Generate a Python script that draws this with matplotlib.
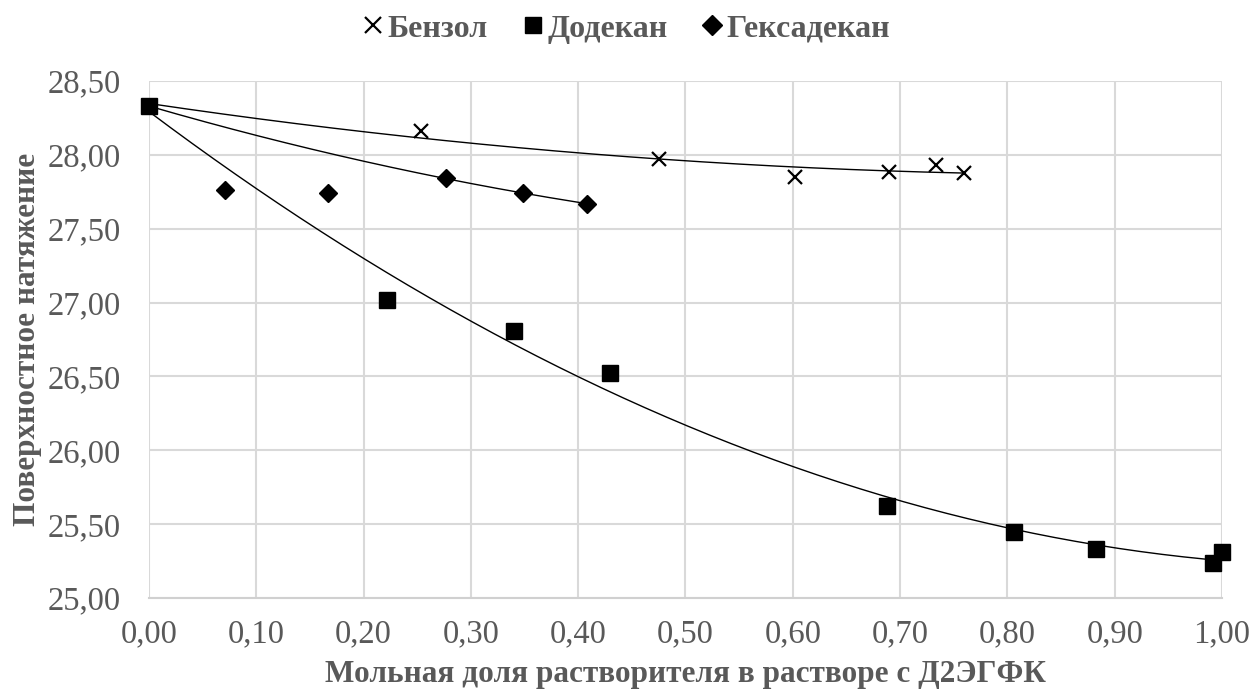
import numpy as np
import matplotlib
matplotlib.use("Agg")
import matplotlib.pyplot as plt
from matplotlib.lines import Line2D

# Data
benz_x = [0.0, 0.2535, 0.4751, 0.6025, 0.690, 0.733, 0.760]
benz_y = [28.33, 28.16, 27.97, 27.85, 27.885, 27.93, 27.874]

dod_x = [0.0, 0.2218, 0.340, 0.4295, 0.6876, 0.8058, 0.8825, 0.9916, 0.9996]
dod_y = [28.33, 27.02, 26.81, 26.52, 25.62, 25.45, 25.33, 25.24, 25.31]

hex_x = [0.071, 0.1665, 0.2764, 0.3487, 0.4081]
hex_y = [27.76, 27.74, 27.84, 27.74, 27.67]
# points the hexadecane curve is drawn through
hex_line_x = [0.0, 0.2764, 0.3487, 0.4081]
hex_line_y = [28.33, 27.84, 27.74, 27.67]

x_ticks = [0.0, 0.1, 0.2, 0.3, 0.4, 0.5, 0.6, 0.7, 0.8, 0.9, 1.0]
y_ticks = [25.0, 25.5, 26.0, 26.5, 27.0, 27.5, 28.0, 28.5]

labels = ["Бензол", "Додекан", "Гексадекан"]
xlabel = "Мольная доля растворителя в растворе с Д2ЭГФК"
ylabel = "Поверхностное натяжение"

plt.rcParams['font.family'] = ['Liberation Serif', 'DejaVu Serif']
gray = "#595959"

fig = plt.figure(figsize=(12.54, 6.95), dpi=100)
ax = fig.add_axes([0.1188, 0.1396, 0.9745 - 0.1188, 0.8835 - 0.1396])

def trend(xs, ys, deg, x0, x1):
    c = np.polyfit(xs, ys, deg)
    xx = np.linspace(x0, x1, 200)
    return xx, np.polyval(c, xx)

lw = 1.0
tx, ty = trend(benz_x, benz_y, 2, 0.0, max(benz_x))
ax.plot(tx, ty, color="black", lw=lw, zorder=3)
tx, ty = trend(dod_x, dod_y, 2, 0.0, max(dod_x))
ax.plot(tx, ty, color="black", lw=lw, zorder=3)
tx, ty = trend(hex_line_x, hex_line_y, 2, 0.0, max(hex_line_x))
ax.plot(tx, ty, color="black", lw=lw, zorder=3)

ax.plot(benz_x[1:], benz_y[1:], linestyle="none", marker="x", ms=10, mew=1.6,
        color="black", zorder=4, clip_on=False)
ax.plot(dod_x, dod_y, linestyle="none", marker="s", ms=12, color="black",
        zorder=5, clip_on=False)
ax.plot(hex_x, hex_y, linestyle="none", marker="D", ms=9, color="black",
        zorder=4, clip_on=False)

ax.set_xlim(0, 1.0)
ax.set_ylim(25.0, 28.5)
ax.set_xticks(x_ticks)
ax.set_yticks(y_ticks)
ax.set_xticklabels([f"{v:.2f}".replace(".", ",") for v in x_ticks])
ax.set_yticklabels([f"{v:.2f}".replace(".", ",") for v in y_ticks])
ax.tick_params(axis="both", length=0, labelsize=23.5, labelcolor=gray)
ax.tick_params(axis="x", pad=15)
ax.tick_params(axis="y", pad=20)
ax.grid(True, color="#d9d9d9", lw=1.5, zorder=0)
ax.set_axisbelow(True)
for s in ["top", "right", "left"]:
    ax.spines[s].set_visible(False)
ax.spines["bottom"].set_color("#d0d0d0")
ax.spines["bottom"].set_linewidth(1.5)

ax.set_xlabel(xlabel, fontsize=22.5, fontweight="bold", color=gray, labelpad=8)
ax.set_ylabel(ylabel, fontsize=22.5, fontweight="bold", color=gray, labelpad=4)

handles = [
    Line2D([], [], linestyle="none", marker="x", ms=12, mew=1.6, color="black"),
    Line2D([], [], linestyle="none", marker="s", ms=12, color="black"),
    Line2D([], [], linestyle="none", marker="D", ms=10, color="black"),
]
leg = fig.legend(handles, labels, loc="center", bbox_to_anchor=(0.5, 1 - 29 / 695),
                 ncol=3, frameon=False, handlelength=0.6, handletextpad=0.15,
                 columnspacing=1.1, prop={"size": 23, "weight": "bold"})
for t in leg.get_texts():
    t.set_color(gray)

fig.savefig("out.png", dpi=100)
